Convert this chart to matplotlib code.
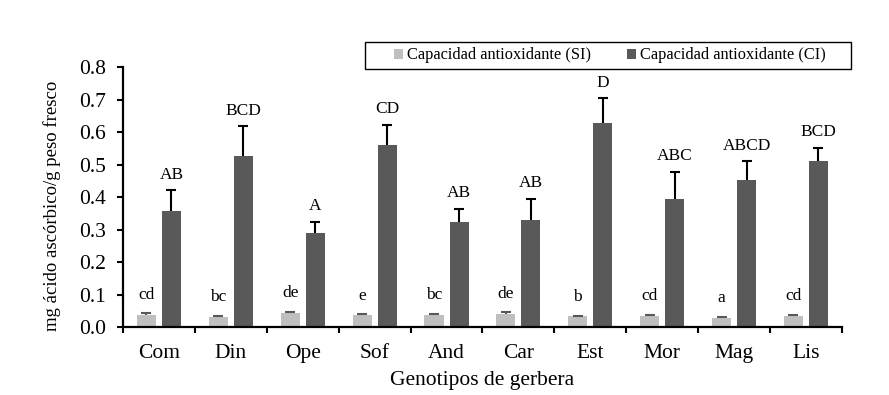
import matplotlib

matplotlib.use("Agg")

import matplotlib.pyplot as plt
import numpy as np
from matplotlib.patches import Rectangle

genotypes = ["Com", "Din", "Ope", "Sof", "And", "Car", "Est", "Mor", "Mag", "Lis"]

si_mean = [0.037, 0.032, 0.044, 0.037, 0.037, 0.040, 0.033, 0.035, 0.029, 0.035]
si_err = [0.005, 0.003, 0.003, 0.002, 0.004, 0.005, 0.002, 0.003, 0.003, 0.003]
si_letters = ["cd", "bc", "de", "e", "bc", "de", "b", "cd", "a", "cd"]

ci_mean = [0.358, 0.528, 0.290, 0.562, 0.324, 0.330, 0.630, 0.395, 0.454, 0.512]
ci_err = [0.063, 0.090, 0.035, 0.061, 0.040, 0.065, 0.074, 0.084, 0.056, 0.039]
ci_letters = ["AB", "BCD", "A", "CD", "AB", "AB", "D", "ABC", "ABCD", "BCD"]

LIGHT = "#BFBFBF"
DARK = "#595959"
BLACK = "#000000"

plt.rcParams["font.family"] = ["Liberation Serif", "DejaVu Serif"]

fig = plt.figure(figsize=(8.89, 3.95), dpi=100)
ax = fig.add_axes([0.1384, 0.172, 0.8086, 0.6576])

x = np.arange(len(genotypes))
offset = 0.174
width = 0.265

ax.bar(x - offset, si_mean, width, color=LIGHT, label="Capacidad antioxidante (SI)", zorder=2)
ax.bar(x + offset, ci_mean, width, color=DARK, label="Capacidad antioxidante (CI)", zorder=2)


def plus_errorbar(xs, means, errs, color):
    # only the upper half of the error bar, like the spreadsheet original
    _, caps, _ = ax.errorbar(xs, means, yerr=[np.zeros(len(xs)), errs], fmt="none",
                             ecolor=color, elinewidth=1.5, capsize=3.3, capthick=1.5,
                             zorder=3)
    caps[0].set_visible(False)


plus_errorbar(x - offset, si_mean, si_err, DARK)
plus_errorbar(x + offset, ci_mean, ci_err, BLACK)

for xi, m, e, t in zip(x, si_mean, si_err, si_letters):
    ax.text(xi - offset, m + e + 0.032, t, ha="center", va="bottom", fontsize=12.5)
for xi, m, e, t in zip(x, ci_mean, ci_err, ci_letters):
    ax.text(xi + offset, m + e + 0.024, t, ha="center", va="bottom", fontsize=12.5)

ax.set_xlim(-0.5, len(x) - 0.5)
ax.set_ylim(0, 0.8)
ax.set_yticks(np.arange(0, 0.81, 0.1))
ax.set_yticklabels([f"{v:.1f}" for v in np.arange(0, 0.81, 0.1)], fontsize=15.5)
ax.set_xticks(x)
ax.set_xticklabels(genotypes, fontsize=15.5)
ax.set_xticks(np.arange(-0.5, len(x), 1.0), minor=True)
ax.tick_params(axis="x", which="major", length=0, pad=12)
ax.tick_params(axis="x", which="minor", length=4, width=1.5, direction="out")
ax.tick_params(axis="y", length=4, width=1.5, direction="out", pad=8)

for side in ["top", "right"]:
    ax.spines[side].set_visible(False)
for side in ["left", "bottom"]:
    ax.spines[side].set_linewidth(1.6)

ax.set_xlabel("Genotipos de gerbera", fontsize=15.5, labelpad=6)
ax.set_ylabel("mg ácido ascórbico/g peso fresco", fontsize=13.5)
ax.yaxis.set_label_coords(-0.086, 0.465)

# legend frame drawn by hand: the original box is wider than its contents
fig.patches.append(Rectangle((0.4106, 0.825), 0.5466, 0.069, transform=fig.transFigure,
                             fill=False, edgecolor=BLACK, linewidth=1.0))
fig.legend(loc="center", bbox_to_anchor=(0.686, 0.8595), ncol=2,
           fontsize=11.8, frameon=False,
           handlelength=0.55, handleheight=0.55, handletextpad=0.25,
           columnspacing=2.15, borderpad=0.2, borderaxespad=0)

fig.savefig("out.png", dpi=100)
